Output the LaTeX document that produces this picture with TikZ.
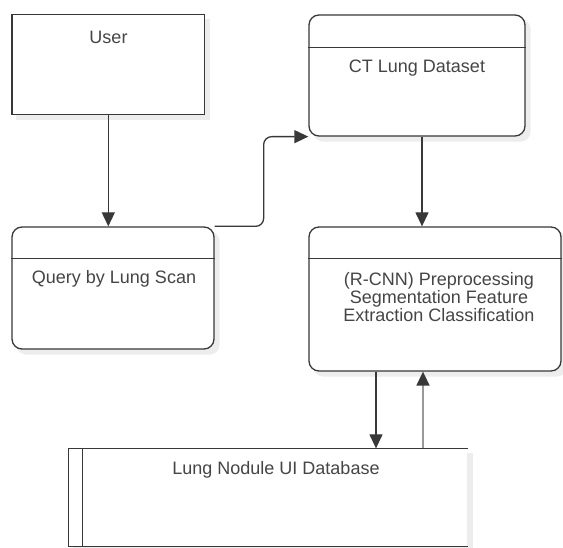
\documentclass[tikz,border=0pt]{standalone}
\usepackage{fontspec}
\setmainfont{Liberation Sans}
\usetikzlibrary{positioning,backgrounds,arrows.meta}
\definecolor{MyLine}{rgb}{0.22,0.22,0.22}
\definecolor{MyText}{rgb}{0.27,0.27,0.27}
\definecolor{MyGray}{rgb}{0.6,0.6,0.6}
\definecolor{MyShadow}{rgb}{0.93,0.93,0.93}
\tikzset{
    box/.style={
      rectangle,
      draw=MyLine,
      line width=1.3pt,
      fill=white,
      inner sep=0pt
    },
    proc/.style={box, rounded corners=10pt},
    lbl/.style={text=MyText, font=\fontsize{18}{18}\selectfont, align=center, inner sep=0pt},
    hdr/.style={draw=MyLine, line width=1.3pt},
    flow/.style={draw=MyLine, line width=1.3pt, -{Triangle[length=14pt,width=13pt]}},
    backflow/.style={draw=MyGray, line width=1.7pt, -{Triangle[length=14pt,width=13pt,color=MyLine]}},
}

\begin{document}
\begin{tikzpicture}[x=1pt,y=-1pt]
  \useasboundingbox (0,0) rectangle (563,548);

  % boxes
  \node[box, minimum width=192.6pt, minimum height=99.6pt] at (108.3,64.6) (user) {};
  \node[proc, minimum width=216pt, minimum height=121pt] at (417,75.5) (ct) {};
  \node[proc, minimum width=202pt, minimum height=122pt] at (113,288) (query) {};
  \node[proc, minimum width=252pt, minimum height=144pt] at (435,299) (rcnn) {};
  \node[box, draw=none, minimum width=398pt, minimum height=97pt] at (268,497.5) (db) {};

  % soft shadows
  \begin{scope}[on background layer]
    \foreach \n/\r in {user/0pt,ct/10pt,query/10pt,rcnn/10pt,db/0pt} {
      \fill[MyShadow, rounded corners=\r] ([shift={(5pt,-5pt)}]\n.south west) rectangle ([shift={(5pt,-5pt)}]\n.north east);
    }
  \end{scope}

  \draw[hdr] ([yshift=-33pt]ct.north west) -- ([yshift=-33pt]ct.north east);
  \draw[hdr] ([yshift=-32pt]query.north west) -- ([yshift=-32pt]query.north east);
  \draw[hdr] ([yshift=-32pt]rcnn.north west) -- ([yshift=-32pt]rcnn.north east);
  \draw[hdr] (db.north east) -- (db.north west) -- (db.south west) -- (db.south east);
  \draw[hdr] ([xshift=14pt]db.north west) -- ([xshift=14pt]db.south west);

  % texts
  \node[lbl] at (108.5,37) (userlbl) {User};
  \node[lbl] at (417,68) (ctlbl) {CT Lung Dataset};
  \node[lbl] at (114,279) (querylbl) {Query by Lung Scan};
  \node[lbl] at (439,297) (rcnnlbl) {(R-CNN) Preprocessing\\Segmentation Feature\\Extraction Classification};
  \node[lbl] at (276,470) (dblbl) {Lung Nodule UI Database};

  % connectors
  \draw[flow] (user.south) -- (user.south |- query.north);
  \draw[flow] ([xshift=5pt]ct.south) -- ([xshift=5pt]ct.south |- rcnn.north);
  \draw[flow, rounded corners=8pt] (query.north east) -- ++(49,0) |- (ct.south west);
  \draw[flow] ([xshift=-59pt]rcnn.south) -- ([xshift=-59pt]rcnn.south |- db.north);
  \draw[backflow] ([xshift=-12pt]rcnn.south |- db.north) -- ([xshift=-12pt]rcnn.south);

\end{tikzpicture}
\end{document}
